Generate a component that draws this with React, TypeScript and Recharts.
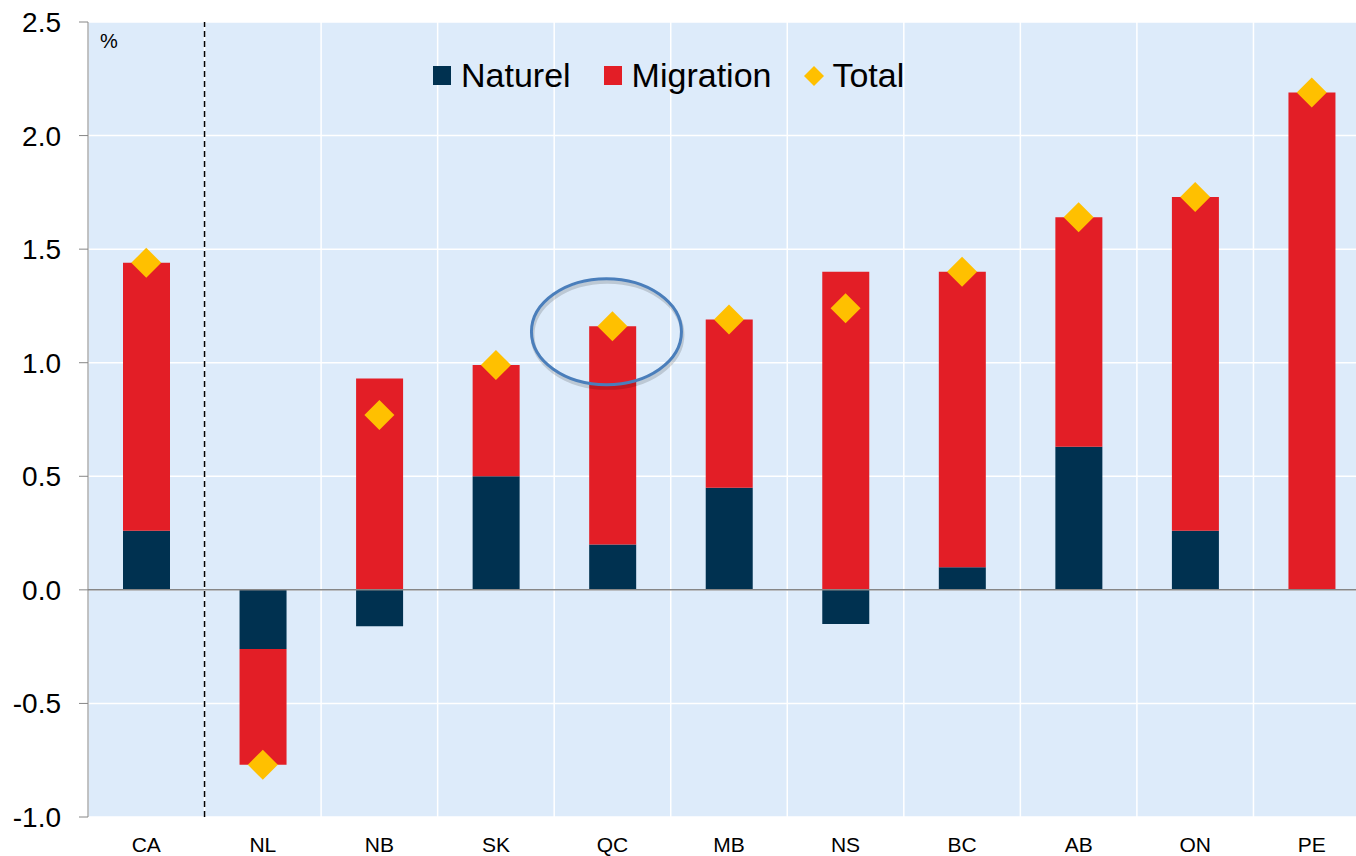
import React from 'react';
import {
  ComposedChart,
  Bar,
  Scatter,
  XAxis,
  YAxis,
  CartesianGrid,
  ReferenceLine,
  ReferenceDot,
  Legend
} from 'recharts';

const provinces = ['CA', 'NL', 'NB', 'SK', 'QC', 'MB', 'NS', 'BC', 'AB', 'ON', 'PE'];
const naturel = [0.26, -0.26, -0.16, 0.5, 0.2, 0.45, -0.15, 0.1, 0.63, 0.26, 0.0];
const migration = [1.18, -0.51, 0.93, 0.49, 0.96, 0.74, 1.4, 1.3, 1.01, 1.47, 2.19];
const total = [1.44, -0.77, 0.77, 0.99, 1.16, 1.19, 1.24, 1.4, 1.64, 1.73, 2.19];
const yTicks = [-1.0, -0.5, 0, 0.5, 1.0, 1.5, 2.0, 2.5];
// category boundaries, used for the vertical grid lines
const boundaries = [0, 1, 2, 3, 4, 5, 6, 7, 8, 9, 10, 11];
const legendOrder = ['Naturel', 'Migration', 'Total'];

const NAT = '#003150';
const MIG = '#E31E26';
const TOT = '#FFC000';
const BG = '#DDEBFA';
const AXIS = '#868686';
const FONT = '"Liberation Sans", Arial, sans-serif';

const data = provinces.map((name, i) => ({
  name,
  pos: i + 0.5,
  naturel: naturel[i],
  migration: migration[i],
  total: total[i]
}));

const Diamond = (props: any) => {
  const { cx, cy } = props;
  const r = 15;
  return (
    <path
      d={`M${cx},${cy - r} L${cx + r},${cy} L${cx},${cy + r} L${cx - r},${cy} Z`}
      fill={TOT}
    />
  );
};

const Highlight = (props: any) => {
  const { cx, cy } = props;
  return (
    <g>
      <ellipse cx={cx - 5} cy={cy + 3} rx={75} ry={53} fill="none" stroke="rgba(0,0,0,0.15)" strokeWidth={4} />
      <ellipse cx={cx - 6} cy={cy} rx={75} ry={53} fill="none" stroke="#4A7EBB" strokeWidth={3} />
    </g>
  );
};

const LegendIcon = ({ type, color }: { type: string; color: string }) =>
  type === 'diamond' ? (
    <svg width={20} height={20} style={{ marginRight: 8 }}>
      <path d="M10,0 L20,10 L10,20 L0,10 Z" fill={color} />
    </svg>
  ) : (
    <svg width={18} height={19} style={{ marginRight: 10 }}>
      <rect width={18} height={19} fill={color} />
    </svg>
  );

const renderLegend = (props: any) => {
  const payload = [...(props.payload || [])].sort(
    (a: any, b: any) => legendOrder.indexOf(a.value) - legendOrder.indexOf(b.value)
  );
  return (
    <div style={{ display: 'flex', alignItems: 'center', fontFamily: FONT, fontSize: 34, color: '#000' }}>
      {payload.map((p: any, i: number) => (
        <div key={i} style={{ display: 'flex', alignItems: 'center', marginRight: 33 }}>
          <LegendIcon type={p.type} color={p.color} />
          <span>{p.value}</span>
        </div>
      ))}
    </div>
  );
};

export default function App() {
  return (
    <div
      style={{
        position: 'fixed',
        left: 0,
        top: 0,
        width: 1356,
        height: 856,
        overflow: 'hidden',
        background: '#fff'
      }}
    >
      <ComposedChart
        width={1370}
        height={856}
        data={data}
        stackOffset="sign"
        margin={{ top: 22, right: 0, bottom: 0, left: 0 }}
      >
        <XAxis
          dataKey="name"
          axisLine={false}
          tickLine={false}
          tickSize={0}
          tickMargin={20}
          height={39}
          interval={0}
          tick={{ fontSize: 21, fill: '#000', fontFamily: FONT }}
        />
        <XAxis
          xAxisId="grid"
          dataKey="pos"
          type="number"
          domain={[0, 11]}
          allowDataOverflow
          ticks={boundaries}
          hide
        />
        <YAxis
          domain={[-1, 2.5]}
          ticks={yTicks}
          width={88}
          tickSize={9}
          tickMargin={18}
          stroke={AXIS}
          tickFormatter={(v: number) => v.toFixed(1)}
          tick={{ fontSize: 28, fill: '#000', fontFamily: FONT }}
        />
        <CartesianGrid xAxisId="grid" fill={BG} fillOpacity={1} stroke="#fff" strokeWidth={1.5} />
        <ReferenceLine
          y={2.5}
          stroke="none"
          label={{ value: '%', position: 'insideTopLeft', offset: 12, fontSize: 20, fill: '#000', fontFamily: FONT }}
        />
        <ReferenceLine xAxisId="grid" x={1} stroke="#000" strokeDasharray="6 4" strokeWidth={1.5} />
        <Legend
          layout="horizontal"
          verticalAlign="middle"
          align="center"
          content={renderLegend}
          wrapperStyle={{ top: 56, left: 433, width: 900 }}
        />
        <Bar dataKey="naturel" name="Naturel" stackId="a" fill={NAT} barSize={47} legendType="square" isAnimationActive={false} />
        <Bar dataKey="migration" name="Migration" stackId="a" fill={MIG} barSize={47} legendType="square" isAnimationActive={false} />
        <ReferenceLine y={0} stroke={AXIS} strokeWidth={1.5} />
        <Scatter dataKey="total" name="Total" fill={TOT} legendType="diamond" shape={Diamond} isAnimationActive={false} />
        <ReferenceDot x="QC" y={1.136} shape={Highlight} />
      </ComposedChart>
    </div>
  );
}
